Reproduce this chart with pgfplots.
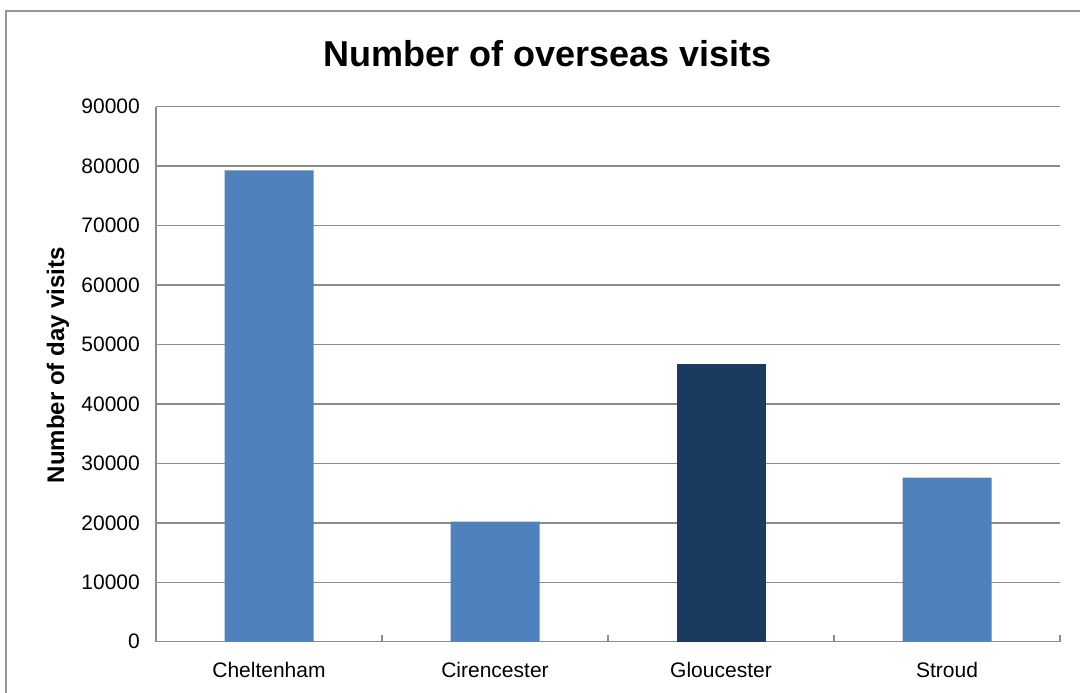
\documentclass[border=0pt]{standalone}
\usepackage{fontspec}
\setmainfont{Liberation Sans}
\usepackage{pgfplots}
\pgfplotsset{compat=1.18}
\definecolor{barblue}{HTML}{4F81BD}
\definecolor{bardark}{HTML}{1B3A5F}
\definecolor{gridgray}{HTML}{8C8C8C}
\begin{document}
\begin{tikzpicture}
\useasboundingbox (0,0) rectangle (1080pt,693pt);
\draw[color=gridgray!90, line width=1.5pt] (6pt,682pt) rectangle (1120pt,-30pt);
\begin{axis}[
  at={(156pt,51.3pt)}, anchor=south west,
  scale only axis, width=904pt, height=535pt,
  xmin=-0.5, xmax=3.5, ymin=0, ymax=90000,
  ybar, bar width=89pt,
  xtick={0,1,2,3},
  xticklabels={Cheltenham,Cirencester,Gloucester,Stroud},
  minor xtick={0.5,1.5,2.5,3.5},
  ytick={0,10000,...,90000},
  scaled y ticks=false,
  /pgf/number format/1000 sep={},
  /pgf/number format/assume math mode=true,
  axis x line*=bottom, axis y line*=left,
  axis line style={gridgray, line width=1.5pt, -},
  major tick length=0pt, minor tick length=7pt, tick align=inside,
  minor tick style={gridgray, line width=1.5pt},
  ymajorgrids, major grid style={gridgray, line width=1.5pt},
  ticklabel style={font=\fontsize{21}{24}\selectfont},
  yticklabel style={anchor=east, inner sep=0pt, xshift=-16pt},
  xticklabel style={anchor=base, inner sep=0pt, yshift=-36pt},
  title={Number of overseas visits},
  title style={at={(axis description cs:0.4336,1.064)}, anchor=base, font=\fontsize{36}{40}\selectfont\bfseries},
  ylabel={Number of day visits},
  ylabel style={at={(axis description cs:-0.1084,0.517)}, anchor=center, font=\fontsize{24}{28}\selectfont\bfseries},
]
\addplot[fill=barblue, draw=none, bar shift=0pt] coordinates {(0,79300) (1,20200) (3,27600)};
\addplot[fill=bardark, draw=none, bar shift=0pt] coordinates {(2,46700)};
\end{axis}
\end{tikzpicture}
\end{document}
